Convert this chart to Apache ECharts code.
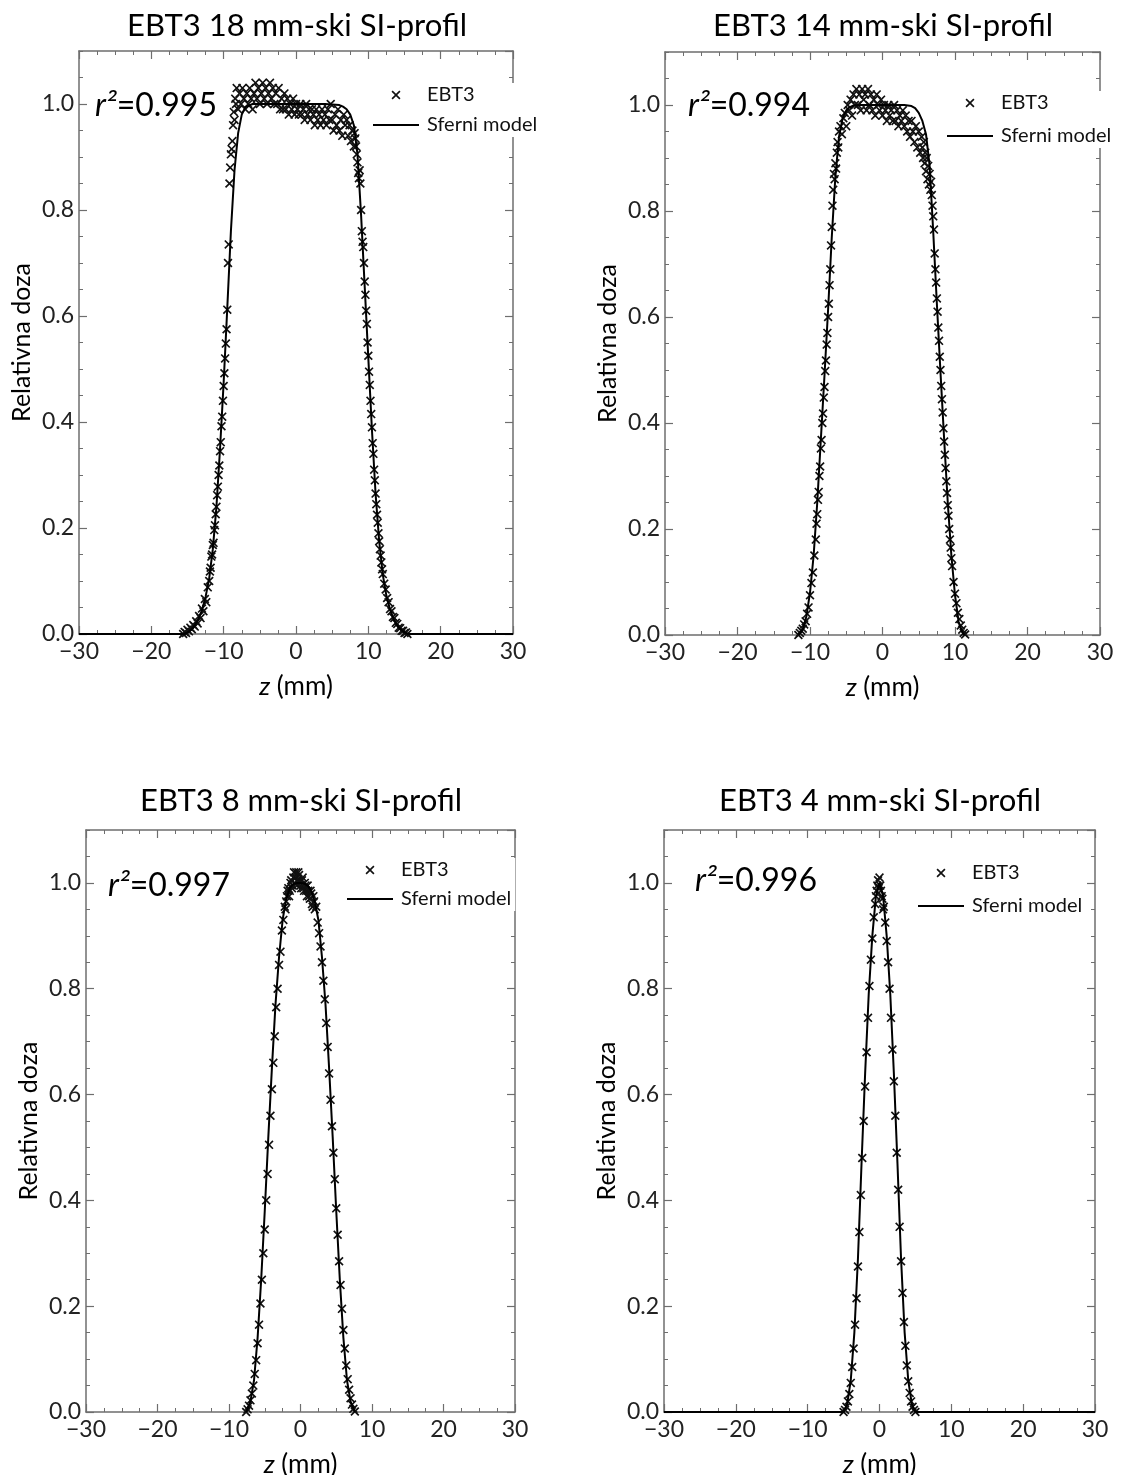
<!DOCTYPE html>
<html><head><meta charset="utf-8">
<script src="https://cdn.jsdelivr.net/npm/echarts/dist/echarts.min.js"></script>
<style>html,body{margin:0;padding:0;background:#fff}#c{width:1134px;height:1475px}</style>
</head><body><div id="c"></div>
<script>
// ---------------- data ----------------
const xTickLabels = [-30, -20, -10, 0, 10, 20, 30];
const yTickLabels = [0.0, 0.2, 0.4, 0.6, 0.8, 1.0];
const titles = ['EBT3 18 mm-ski SI-profil', 'EBT3 14 mm-ski SI-profil', 'EBT3 8 mm-ski SI-profil', 'EBT3 4 mm-ski SI-profil'];
const r2Values = ['0.995', '0.994', '0.997', '0.996'];
const seriesNames = ['EBT3', 'Sferni model'];

// 18 mm: EBT3 film points
const z18 = [-15.6,-15.4,-15.2,-15.0,-14.8,-14.6,-14.4,-14.2,-14.0,-13.8,-13.6,-13.4,-13.2,-13.0,-12.8,-12.6,-12.4,-12.2,-12.0,-11.9,-11.8,-11.7,-11.6,-11.5,-11.4,-11.3,-11.2,-11.1,-11.0,-10.9,-10.8,-10.7,-10.6,-10.5,-10.4,-10.3,-10.2,-10.1,-10.0,-9.9,-9.8,-9.7,-9.6,-9.5,-9.4,-9.3,-9.2,-9.1,-9.0,-8.9,-8.8,-8.7,-8.6,-8.5,-8.4,-8.3,-8.2,
-8.0,-7.8,-7.6,-7.4,-7.2,-7.0,-6.8,-6.6,-6.4,-6.2,-6.0,-5.8,-5.6,-5.4,-5.2,-5.0,-4.8,-4.6,-4.4,-4.2,-4.0,-3.8,-3.6,-3.4,-3.2,-3.0,-2.8,-2.6,-2.4,-2.2,-2.0,-1.8,-1.6,-1.4,-1.2,-1.0,-0.8,-0.6,-0.4,-0.2,0.0,0.2,0.4,0.6,0.8,1.0,1.2,1.4,1.6,1.8,2.0,2.2,2.4,2.6,2.8,3.0,3.2,3.4,3.6,3.8,4.0,4.2,4.4,4.6,4.8,5.0,5.2,5.4,5.6,5.8,6.0,6.2,6.4,6.6,6.8,7.0,
7.2,7.4,7.6,7.8,8.0,8.1,8.2,8.3,8.4,8.5,8.6,8.7,8.8,8.9,9.0,9.1,9.2,9.3,9.4,9.5,9.6,9.7,9.8,9.9,10.0,10.1,10.2,10.3,10.4,10.5,10.6,10.7,10.8,10.9,11.0,11.1,11.2,11.3,11.4,11.5,11.6,11.7,11.8,11.9,12.0,12.2,12.4,12.6,12.8,13.0,13.2,13.4,13.6,13.8,14.0,14.2,14.4,14.6,14.8,15.0,15.2,15.4];
const dose18 = [0.000,0.004,0.002,0.008,0.005,0.012,0.009,0.017,0.014,0.024,0.020,0.034,0.030,0.048,0.043,0.066,0.060,0.088,0.100,0.118,0.125,0.146,0.150,0.168,0.172,0.196,0.205,0.226,0.240,0.262,0.278,0.300,0.318,0.345,0.362,0.392,0.410,0.440,0.468,0.492,0.520,0.548,0.575,0.612,0.700,0.735,0.850,0.880,0.905,0.915,0.930,0.960,0.985,0.970,1.010,1.000,1.030,
0.99,1.02,1.00,1.03,1.01,0.99,1.02,1.00,1.03,1.01,0.99,1.02,1.04,1.01,1.03,1.00,1.02,1.04,1.01,1.03,1.00,1.02,1.04,1.01,1.03,1.00,1.02,1.00,1.03,0.99,1.01,0.99,1.02,0.99,1.01,0.98,1.00,0.99,1.01,0.98,1.00,0.99,0.98,1.00,0.98,0.99,0.97,1.00,0.98,0.99,0.97,0.99,0.98,0.96,0.99,0.97,0.98,0.96,0.99,0.97,0.98,0.96,0.99,0.97,1.00,0.97,0.95,0.98,0.96,0.99,0.95,0.97,0.94,0.98,0.96,0.97,
0.94,0.96,0.93,0.95,0.92,0.945,0.935,0.92,0.905,0.89,0.87,0.86,0.875,0.85,0.80,0.76,0.74,0.73,0.70,0.665,0.64,0.61,0.585,0.55,0.525,0.495,0.47,0.44,0.415,0.39,0.36,0.34,0.31,0.29,0.265,0.245,0.225,0.21,0.19,0.175,0.16,0.148,0.135,0.122,0.113,0.095,0.084,0.068,0.060,0.047,0.043,0.032,0.030,0.021,0.019,0.012,0.011,0.006,0.006,0.002,0.003,0.000];
// 18 mm: spherical model
const mz18 = [-30,-15.5,-15,-14.5,-14,-13.5,-13,-12.5,-12,-11.5,-11,-10.5,-10,-9.5,-9,-8.5,-8,-7.5,-7,-6,-4,0,4,5,6,6.5,7,7.5,8,8.5,9,9.5,10,10.5,11,11.5,12,12.5,13,13.5,14,14.5,15,15.5,30];
const m18 = [0,0,0.003,0.008,0.016,0.028,0.045,0.07,0.105,0.16,0.24,0.35,0.475,0.615,0.76,0.875,0.945,0.98,0.994,1.0,1.0,1.0,1.0,0.999,0.998,0.995,0.99,0.98,0.96,0.905,0.79,0.655,0.52,0.385,0.265,0.175,0.112,0.072,0.046,0.028,0.016,0.008,0.003,0,0];

// 14 mm
const z14 = [-11.6,-11.4,-11.2,-11.0,-10.8,-10.6,-10.4,-10.2,-10.0,-9.8,-9.6,-9.4,-9.2,-9.1,-9.0,-8.9,-8.8,-8.7,-8.6,-8.5,-8.4,-8.3,-8.2,-8.1,-8.0,-7.9,-7.8,-7.7,-7.6,-7.5,-7.4,-7.3,-7.2,-7.1,-7.0,-6.9,-6.8,-6.7,-6.6,-6.5,-6.4,-6.3,-6.2,-6.1,-6.0,
-5.8,-5.6,-5.4,-5.2,-5.0,-4.8,-4.6,-4.4,-4.2,-4.0,-3.8,-3.6,-3.4,-3.2,-3.0,-2.8,-2.6,-2.4,-2.2,-2.0,-1.8,-1.6,-1.4,-1.2,-1.0,-0.8,-0.6,-0.4,-0.2,0.0,0.2,0.4,0.6,0.8,1.0,1.2,1.4,1.6,1.8,2.0,2.2,2.4,2.6,2.8,3.0,3.2,3.4,3.6,3.8,4.0,4.2,4.4,4.6,4.8,5.0,5.2,5.4,
5.5,5.6,5.7,5.8,5.9,6.0,6.1,6.2,6.3,6.4,6.5,6.6,6.7,6.8,6.9,7.0,7.1,7.2,7.3,7.4,7.5,7.6,7.7,7.8,7.9,8.0,8.1,8.2,8.3,8.4,8.5,8.6,8.7,8.8,8.9,9.0,9.1,9.2,9.3,9.4,9.5,9.6,9.8,10.0,10.2,10.4,10.6,10.8,11.0,11.2,11.4];
const dose14 = [0.000,0.004,0.008,0.012,0.020,0.026,0.040,0.052,0.075,0.098,0.118,0.150,0.180,0.210,0.228,0.255,0.270,0.300,0.318,0.352,0.368,0.400,0.418,0.448,0.468,0.498,0.518,0.548,0.570,0.600,0.625,0.660,0.690,0.735,0.770,0.810,0.840,0.870,0.860,0.890,0.880,0.910,0.930,0.920,0.950,
0.96,0.945,0.975,0.985,0.96,1.00,0.99,1.01,0.98,1.02,1.00,1.03,1.00,1.02,0.99,1.03,1.01,1.02,0.99,1.03,1.00,1.02,0.99,1.01,0.98,1.02,1.00,0.99,1.01,0.98,1.00,0.99,0.97,1.00,0.98,0.99,0.97,1.00,0.97,0.99,0.96,0.98,0.97,0.99,0.96,0.98,0.95,0.97,0.94,0.97,0.95,0.93,0.96,0.92,0.95,0.91,0.94,
0.92,0.90,0.93,0.89,0.91,0.875,0.90,0.86,0.885,0.85,0.87,0.84,0.855,0.83,0.81,0.79,0.765,0.72,0.69,0.665,0.635,0.61,0.58,0.555,0.525,0.50,0.47,0.445,0.42,0.39,0.365,0.34,0.315,0.29,0.268,0.245,0.225,0.20,0.18,0.165,0.145,0.13,0.10,0.078,0.060,0.042,0.030,0.018,0.010,0.004,0.001];
const mz14 = [-11.6,-11,-10.5,-10,-9.5,-9,-8.5,-8,-7.5,-7,-6.5,-6,-5.5,-5,-4.5,-4,-3,-2,-1,0,1,2,3,4,4.5,5,5.5,6,6.5,7,7.5,8,8.5,9,9.5,10,10.5,11,11.3];
const m14 = [0,0.01,0.035,0.08,0.15,0.25,0.37,0.49,0.615,0.75,0.865,0.94,0.975,0.99,0.996,0.999,1.0,1.0,1.0,1.0,1.0,1.0,1.0,0.998,0.994,0.985,0.97,0.945,0.885,0.76,0.625,0.495,0.37,0.25,0.15,0.075,0.025,0.005,0];

// 8 mm
const z8 = [-7.6,-7.4,-7.2,-7.0,-6.8,-6.6,-6.4,-6.2,-6.0,-5.8,-5.6,-5.4,-5.2,-5.0,-4.8,-4.6,-4.4,-4.2,-4.0,-3.8,-3.6,-3.4,-3.2,-3.0,-2.8,-2.6,-2.4,-2.2,-2.1,-2.0,-1.9,-1.8,-1.7,-1.6,-1.5,-1.4,-1.3,-1.2,-1.1,-1.0,-0.9,-0.8,-0.7,-0.6,-0.5,-0.4,-0.3,-0.2,-0.1,0.0,0.1,0.2,0.3,0.4,0.5,0.6,0.7,0.8,0.9,1.0,1.1,1.2,1.3,1.4,1.5,1.6,1.7,1.8,1.9,2.0,2.2,2.4,2.6,2.8,3.0,3.2,3.4,3.6,3.8,4.0,4.2,4.4,4.6,4.8,5.0,5.2,5.4,5.6,5.8,6.0,6.2,6.4,6.6,6.8,7.0,7.2,7.4,7.6];
const dose8 = [0.000,0.005,0.012,0.022,0.035,0.050,0.072,0.098,0.130,0.165,0.205,0.250,0.300,0.345,0.400,0.450,0.505,0.560,0.610,0.660,0.710,0.765,0.800,0.845,0.870,0.910,0.930,0.955,0.950,0.965,0.975,0.985,0.990,0.975,0.985,1.000,1.005,0.990,0.995,1.010,1.020,1.000,1.010,1.020,0.995,1.005,1.020,1.015,1.005,0.995,0.990,1.005,1.010,0.990,0.985,1.000,0.995,0.985,0.975,0.995,0.985,0.975,0.970,0.985,0.980,0.960,0.955,0.975,0.965,0.950,0.955,0.925,0.905,0.880,0.850,0.815,0.780,0.735,0.690,0.640,0.590,0.540,0.490,0.440,0.385,0.335,0.285,0.240,0.195,0.155,0.120,0.088,0.062,0.042,0.026,0.014,0.006,0.001];
const mz8 = [-7.6,-7,-6.5,-6,-5.5,-5,-4.5,-4,-3.5,-3,-2.5,-2,-1.5,-1,-0.5,0,0.5,1,1.5,2,2.5,3,3.5,4,4.5,5,5.5,6,6.5,7,7.6];
const m8 = [0,0.02,0.06,0.14,0.25,0.38,0.52,0.65,0.77,0.86,0.93,0.97,0.99,0.998,1.0,1.0,0.999,0.995,0.985,0.965,0.93,0.86,0.77,0.65,0.52,0.38,0.25,0.14,0.06,0.02,0];

// 4 mm
const z4 = [-5.0,-4.8,-4.6,-4.4,-4.2,-4.0,-3.8,-3.6,-3.4,-3.2,-3.0,-2.8,-2.6,-2.4,-2.2,-2.0,-1.8,-1.6,-1.4,-1.2,-1.0,-0.8,-0.6,-0.5,-0.4,-0.3,-0.2,-0.1,0.0,0.1,0.2,0.3,0.4,0.5,0.6,0.8,1.0,1.2,1.4,1.6,1.8,2.0,2.2,2.4,2.6,2.8,3.0,3.2,3.4,3.6,3.8,4.0,4.2,4.4,4.6,4.8,5.0];
const dose4 = [0.000,0.004,0.010,0.020,0.034,0.055,0.085,0.120,0.165,0.215,0.275,0.340,0.410,0.480,0.550,0.615,0.680,0.745,0.805,0.855,0.895,0.935,0.960,0.975,0.985,0.995,1.005,0.990,1.010,0.995,0.985,0.975,0.970,0.950,0.955,0.925,0.890,0.850,0.800,0.745,0.685,0.625,0.560,0.490,0.420,0.350,0.285,0.225,0.170,0.125,0.088,0.058,0.036,0.020,0.010,0.004,0.000];
const mz4 = [-30,-5,-4.5,-4,-3.5,-3,-2.5,-2,-1.5,-1,-0.5,0,0.5,1,1.5,2,2.5,3,3.5,4,4.5,5,30];
const m4 = [0,0,0.015,0.06,0.15,0.29,0.47,0.64,0.79,0.9,0.975,1.0,0.975,0.9,0.79,0.64,0.47,0.29,0.15,0.06,0.015,0,0];

const panelData = [
  {z: z18, d: dose18, mz: mz18, m: m18},
  {z: z14, d: dose14, mz: mz14, m: m14},
  {z: z8,  d: dose8,  mz: mz8,  m: m8},
  {z: z4,  d: dose4,  mz: mz4,  m: m4}
];

// ---------------- layout / style ----------------
const FONT = 'Lato';
const FRAME = '#6e6e6e';
const X_PATH = 'path://M1.3,0L5,3.7L8.7,0L10,1.3L6.3,5L10,8.7L8.7,10L5,6.3L1.3,10L0,8.7L3.7,5L0,1.3Z';
const LINE_ICON = 'path://M0,0L46,0L46,2L0,2Z';
const grids = [
  {left: 79, top: 51, width: 434, height: 583},
  {left: 665, top: 52, width: 435, height: 583},
  {left: 86, top: 830, width: 429, height: 582},
  {left: 664, top: 830, width: 431, height: 582}
];
const titlePos = [[297, 26], [883, 26], [301, 801], [880, 801]];
const r2Pos = [[95, 90], [688, 90], [108, 870], [695, 865]];
const legendPos = [[373, 83], [947, 91], [347, 858], [918, 861]];
const legendGap = [10, 13, 9, 13];

const xMin = xTickLabels[0], xMax = xTickLabels[xTickLabels.length - 1];
const yMax = 1.1;

function fmtX(v) { return (v < 0 ? '\u2212' : '') + Math.abs(v); }
function fmtY(v) {
  const k = v / 0.2;
  if (Math.abs(k - Math.round(k)) > 1e-6 || v > 1.0001) return '';
  return v.toFixed(1);
}

const xAxis = [], yAxis = [], series = [], legend = [], graphic = [];
const baseLine = {show: true, onZero: false, lineStyle: {color: FRAME, width: 1.5}};

grids.forEach((g, i) => {
  xAxis.push({
    gridIndex: i, type: 'value', min: xMin, max: xMax, interval: 10, position: 'bottom',
    axisLine: baseLine,
    axisTick: {show: true, inside: true, length: 8, lineStyle: {color: FRAME, width: 1.2}},
    minorTick: {show: true, splitNumber: 4, length: 4, lineStyle: {color: FRAME, width: 1}},
    axisLabel: {show: true, margin: 6, fontFamily: FONT, fontSize: 23, color: '#222', formatter: fmtX},
    splitLine: {show: false}, minorSplitLine: {show: false},
    name: '{i|z} (mm)', nameLocation: 'middle', nameGap: 40,
    nameTextStyle: {fontFamily: FONT, fontSize: 26, color: '#000',
      rich: {i: {fontFamily: FONT, fontSize: 26, fontStyle: 'italic', color: '#000'}}}
  });
  xAxis.push({
    gridIndex: i, type: 'value', min: xMin, max: xMax, interval: 10, position: 'top',
    axisLine: baseLine,
    axisTick: {show: true, inside: true, length: 8, lineStyle: {color: FRAME, width: 1.2}},
    minorTick: {show: true, splitNumber: 4, length: 4, lineStyle: {color: FRAME, width: 1}},
    axisLabel: {show: false}, splitLine: {show: false}
  });
  yAxis.push({
    gridIndex: i, type: 'value', min: 0, max: yMax, interval: 0.05, position: 'left',
    axisLine: baseLine,
    axisTick: {show: true, inside: true, length: 4, lineStyle: {color: FRAME, width: 1}},
    axisLabel: {show: false}, splitLine: {show: false}
  });
  yAxis.push({
    gridIndex: i, type: 'value', min: 0, max: yMax, interval: 0.2, position: 'left',
    axisLine: {show: false, onZero: false},
    axisTick: {show: true, inside: true, length: 8, lineStyle: {color: FRAME, width: 1.2}},
    axisLabel: {show: true, margin: 5, fontFamily: FONT, fontSize: 23, color: '#222', formatter: fmtY, showMaxLabel: false},
    splitLine: {show: false},
    name: 'Relativna doza', nameLocation: 'middle', nameGap: 45,
    nameTextStyle: {fontFamily: FONT, fontSize: 25, color: '#000'}
  });
  yAxis.push({
    gridIndex: i, type: 'value', min: 0, max: yMax, interval: 0.05, position: 'right',
    axisLine: baseLine,
    axisTick: {show: true, inside: true, length: 4, lineStyle: {color: FRAME, width: 1}},
    axisLabel: {show: false}, splitLine: {show: false}
  });
  yAxis.push({
    gridIndex: i, type: 'value', min: 0, max: yMax, interval: 0.2, position: 'right',
    axisLine: {show: false, onZero: false},
    axisTick: {show: true, inside: true, length: 8, lineStyle: {color: FRAME, width: 1.2}},
    axisLabel: {show: false}, splitLine: {show: false}
  });

  const pd = panelData[i];
  series.push({
    type: 'scatter', name: seriesNames[0], xAxisIndex: 2 * i, yAxisIndex: 4 * i + 1,
    data: pd.z.map((z, k) => [z, pd.d[k]]),
    symbol: X_PATH, symbolSize: 9, symbolKeepAspect: true,
    itemStyle: {color: '#111', opacity: 1}, z: 3, animation: false, silent: true
  });
  series.push({
    type: 'line', name: seriesNames[1], xAxisIndex: 2 * i, yAxisIndex: 4 * i + 1,
    data: pd.mz.map((z, k) => [z, pd.m[k]]),
    symbol: 'none', showSymbol: false,
    lineStyle: {color: '#000', width: 2}, itemStyle: {color: '#000'},
    z: 4, animation: false, silent: true
  });

  legend.push({
    orient: 'vertical', left: legendPos[i][0], top: legendPos[i][1],
    itemWidth: 46, itemHeight: 9, itemGap: legendGap[i], symbolKeepAspect: true,
    padding: [2, 4, 2, 0], backgroundColor: '#fff', selectedMode: false, z: 10,
    textStyle: {fontFamily: FONT, fontSize: 20, color: '#111', lineHeight: 20, padding: [0, 0, 0, 3]},
    data: [{name: seriesNames[0], icon: X_PATH}, {name: seriesNames[1], icon: LINE_ICON}]
  });

  graphic.push({
    type: 'text', x: titlePos[i][0], y: titlePos[i][1], z: 20,
    style: {text: titles[i], fontFamily: FONT, fontSize: 31, fill: '#000',
      textAlign: 'center', align: 'center', textVerticalAlign: 'middle', verticalAlign: 'middle'}
  });
  graphic.push({
    type: 'text', left: r2Pos[i][0], top: r2Pos[i][1], z: 20,
    style: {text: '{i|r\u00b2}=' + r2Values[i], fontFamily: FONT, fontSize: 32, fill: '#000',
      rich: {i: {fontFamily: FONT, fontSize: 32, fontStyle: 'italic', fill: '#000'}}}
  });
});

const chart = echarts.init(document.getElementById('c'), null, {renderer: 'canvas'});
chart.setOption({
  animation: false,
  backgroundColor: '#fff',
  grid: grids.map(g => Object.assign({containLabel: false, outerBoundsMode: 'none'}, g)),
  xAxis, yAxis, series, legend, graphic
});
</script></body></html>
